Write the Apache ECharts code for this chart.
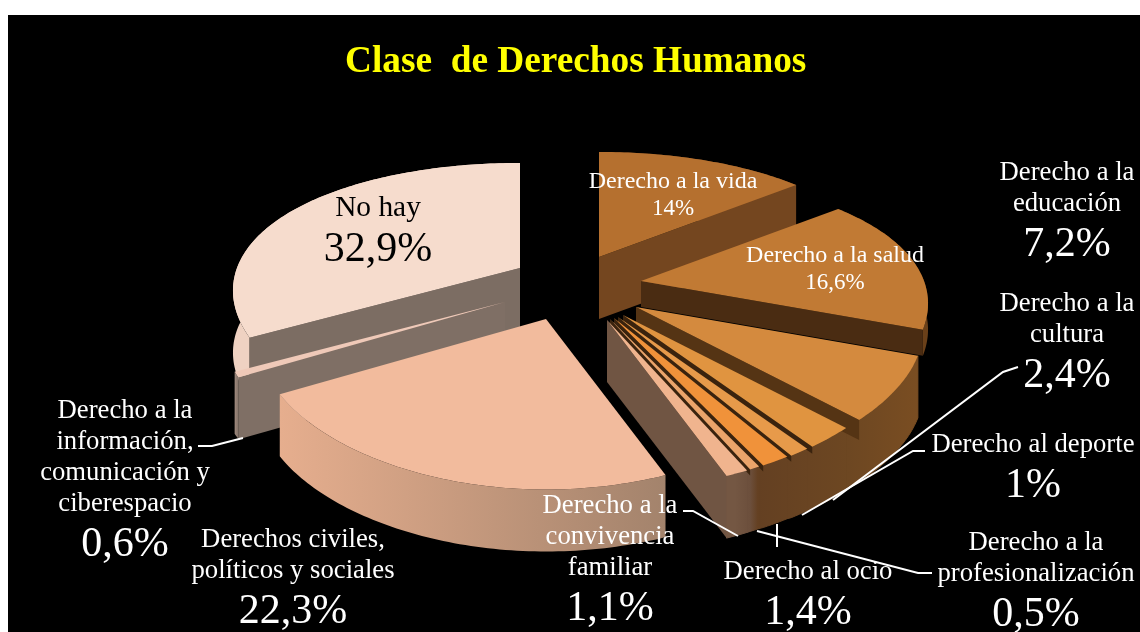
<!DOCTYPE html>
<html>
<head>
<meta charset="utf-8">
<style>
  html, body { margin: 0; background: #fff; }
  #panel { position: absolute; left: 8px; top: 15px; width: 1132px; height: 617px; background: #000; }
  #chart { position: absolute; left: 0; top: 0; width: 1140px; height: 632px; }
</style>
<script src="https://cdn.jsdelivr.net/npm/echarts@6/dist/echarts.min.js"></script>
</head>
<body>
<div id="panel"></div>
<div id="chart"></div>
<script>
const categories = [
  'Derecho a la vida',
  'Derecho a la salud',
  'Derecho a la\neducación',
  'Derecho a la\ncultura',
  'Derecho al deporte',
  'Derecho al ocio',
  'Derecho a la\nprofesionalización',
  'Derecho a la\nconvivencia\nfamiliar',
  'Derechos civiles,\npolíticos y sociales',
  'Derecho a la\ninformación,\ncomunicación y\nciberespacio',
  'No hay'
]
const values = [14, 16.6, 7.2, 2.4, 1, 1.4, 0.5, 1.1, 22.3, 0.6, 32.9]

// slice look, same order as categories
const topColors = ['#b5702f', '#c17a34', '#d48a3e', '#e09440', '#e79a4a', '#f0923a', '#eba46a', '#f0b48e', '#f2bb9d', '#efc9b8', '#f6dccd']
const faceColors = ['#74461f', '#4a2c12', '#553414', '#3a230e', '#3a230e', '#3a230e', '#3a230e', '#705543', '#9a7a64', '#7f6f65', '#7c6d63']
const wallLeft = ['#74461f', '#6a4019', '', '', '', '', '', '', '#e6ae8e', '#a08a7e', '#efd2c2']
const wallRight = ['#74461f', '#6a4019', '', '', '', '', '', '', '#a3836c', '#7f6f65', '#efd2c2']
// apex of each exploded slice on screen
const apexes = [[599, 257], [641, 281], [636, 307], [623, 315], [618, 317], [614, 318], [610, 319], [607, 320], [546, 319], [505, 302], [520, 268]]
// back slices first, civiles stays in front of the right hand group
const drawOrder = [10, 9, 0, 1, 2, 3, 4, 5, 6, 7, 8]
const wallDepths = [62, 26, 62, 62, 62, 62, 62, 62, 62, 62, 62]
const faceDepths = [62, 26, 20, 7, 6, 6, 6, 62, 62, 62, 62]

const RX = 283
const RY = 130
const KX = 0.167
const KY = 0.2375

// label anchor (center x, top y) and text sizes
const labelPos = [[673, 168], [835, 242], [1067, 157], [1067, 288], [1033, 429], [808, 556], [1036, 527], [610, 490], [293, 524], [125, 395], [378, 193]]
const labelColors = ['#fff', '#fff', '#fff', '#fff', '#fff', '#fff', '#fff', '#fff', '#fff', '#fff', '#000']
const labelSizes = [[24, 23], [24, 23], [26.7, 42], [26.7, 42], [26.7, 42], [26.7, 42], [26.7, 42], [26.7, 42], [26.7, 42], [26.7, 42], [29.4, 42]]

const leaders = [
  [[198, 446], [212, 446], [243, 438]],
  [[1018, 367], [1003, 372], [833, 500]],
  [[925, 451], [913, 451], [802, 515]],
  [[683, 511], [693, 511], [738, 536]],
  [[777, 524], [777, 547]],
  [[757, 531], [918, 573], [932, 573]]
]

const total = values.reduce((a, b) => a + b, 0)
const startAngles = []
let acc = 0
values.forEach(v => {
  startAngles.push(acc / total * Math.PI * 2)
  acc += v
})

function project(apex, angle, drop) {
  const z = Math.cos(angle)
  return [
    apex[0] + RX * Math.sin(angle) / (1 + KX * z),
    apex[1] - RY * z / (1 + KY * z) + (drop || 0)
  ]
}

function arc(apex, a0, a1, drop) {
  const pts = []
  const steps = Math.max(2, Math.ceil((a1 - a0) / (Math.PI / 180)))
  for (let i = 0; i <= steps; i++) {
    pts.push(project(apex, a0 + (a1 - a0) * i / steps, drop))
  }
  return pts
}

function wallFill(i) {
  if (wallLeft[i]) {
    return new echarts.graphic.LinearGradient(0, 0, 1, 0, [
      { offset: 0, color: wallLeft[i] },
      { offset: 1, color: wallRight[i] }
    ])
  }
  // right hand group shares one continuous wall
  return new echarts.graphic.LinearGradient(735, 0, 925, 0, [
    { offset: 0, color: '#745743' },
    { offset: 0.08, color: '#6c4f3c' },
    { offset: 0.12, color: '#644022' },
    { offset: 0.6, color: '#6d4722' },
    { offset: 1, color: '#7b4e22' }
  ], true)
}

function renderSlice(params, api) {
  const i = params.dataIndex
  const v = api.value(0)
  const a0 = startAngles[i]
  const a1 = a0 + v / total * Math.PI * 2
  const apex = apexes[i]
  const rank = drawOrder.indexOf(i) * 3
  const children = []
  const inGroup = !wallLeft[i]

  // outer wall, group walls bridge to the next slice so there are no gaps
  const wallTop = arc(apex, a0, a1, 0)
  const wallBottom = arc(apex, a0, a1, wallDepths[i])
  if (inGroup && !wallLeft[i + 1]) {
    wallTop.push(project(apexes[i + 1], a1, 0))
    wallBottom.push(project(apexes[i + 1], a1, wallDepths[i]))
  }
  const fill = wallFill(i)
  children.push({
    type: 'polygon',
    z2: inGroup ? drawOrder.indexOf(2) * 3 : rank,
    shape: { points: wallTop.concat(wallBottom.reverse()) },
    // stroke hides the hairline seams between group walls
    style: inGroup ? { fill: fill, stroke: fill, lineWidth: 1 } : { fill: fill }
  })

  // radial face looking at the viewer
  const faceAngle = a1 < Math.PI ? a1 : (a0 > Math.PI ? a0 : null)
  if (faceAngle !== null) {
    const edge = project(apex, faceAngle, 0)
    const d = faceDepths[i]
    children.push({
      type: 'polygon',
      z2: rank + 1,
      shape: { points: [apex, edge, [edge[0], edge[1] + d], [apex[0], apex[1] + d]] },
      style: { fill: faceColors[i] }
    })
  }

  // top
  children.push({
    type: 'polygon',
    z2: rank + 2,
    shape: { points: [apex].concat(arc(apex, a0, a1, 0)) },
    style: { fill: topColors[i] }
  })
  return { type: 'group', children: children }
}

function pctText(v) {
  return String(v).replace('.', ',') + '%'
}

const labelGraphics = categories.map((name, i) => {
  const lines = name.split('\n').map(l => '{n|' + l + '}')
  lines.push('{p|' + pctText(values[i]) + '}')
  const small = labelSizes[i][1] < 30
  return {
    type: 'text',
    x: labelPos[i][0],
    y: labelPos[i][1],
    z: 10,
    silent: true,
    style: {
      text: lines.join('\n'),
      fill: labelColors[i],
      align: 'center',
      verticalAlign: 'top',
      rich: {
        n: { fontFamily: 'Liberation Serif', fontSize: labelSizes[i][0], lineHeight: small ? 27 : 31, fill: labelColors[i], align: 'center' },
        p: { fontFamily: 'Liberation Serif', fontSize: labelSizes[i][1], lineHeight: small ? 28 : 52, fill: labelColors[i], align: 'center' }
      }
    }
  }
})

const leaderGraphics = leaders.map(pts => ({
  type: 'polyline',
  z: 9,
  silent: true,
  shape: { points: pts },
  style: { stroke: '#fff', lineWidth: 2, fill: 'none' }
}))

const chart = echarts.init(document.getElementById('chart'))
chart.setOption({
  backgroundColor: 'transparent',
  animation: false,
  title: {
    text: 'Clase  de Derechos Humanos',
    left: 340,
    top: 39,
    textStyle: {
      color: '#ffff00',
      fontFamily: 'Liberation Serif',
      fontWeight: 'bold',
      fontSize: 37.3
    }
  },
  series: [
    {
      type: 'custom',
      coordinateSystem: 'none',
      renderItem: renderSlice,
      data: values.map((v, i) => ({ name: categories[i], value: [v] }))
    }
  ],
  graphic: leaderGraphics.concat(labelGraphics)
})
</script>
</body>
</html>
